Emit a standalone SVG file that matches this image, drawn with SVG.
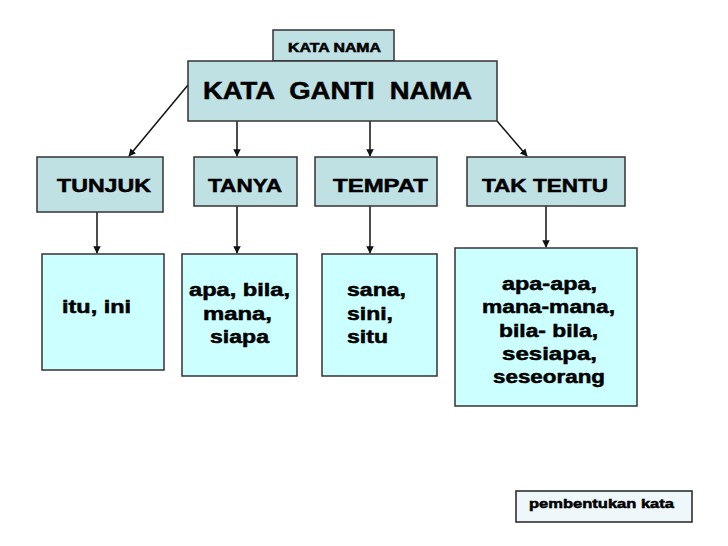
<svg xmlns="http://www.w3.org/2000/svg" width="728" height="546" viewBox="0 0 728 546">
<defs>
<style>
.top{fill:#bfe1e4;stroke:#333;stroke-width:1.5}
.bot{fill:#ccffff;stroke:#333;stroke-width:1.5}
.foot{fill:#eef7fa;stroke:#222;stroke-width:1.5}
.t{font-family:"Liberation Sans",Arial,sans-serif;font-weight:bold;fill:#000;stroke:#000;stroke-width:0.5}
.c{stroke:#111;stroke-width:1.5;fill:none;marker-end:url(#ah)}
</style>
<marker id="ah" viewBox="0 0 10 10" refX="9" refY="5" markerWidth="5" markerHeight="5" orient="auto" markerUnits="strokeWidth">
<path d="M0,0 L10,5 L0,10 z" fill="#111"/>
</marker>
</defs>
<rect width="728" height="546" fill="#fff"/>
<g id="connectors">
<line class="c" x1="188" y1="85" x2="129" y2="156"/>
<line class="c" x1="237" y1="121" x2="237" y2="156"/>
<line class="c" x1="370" y1="121" x2="370" y2="156"/>
<line class="c" x1="497" y1="121" x2="527" y2="156"/>
<line class="c" x1="97" y1="212" x2="97" y2="253"/>
<line class="c" x1="237" y1="206" x2="237" y2="253"/>
<line class="c" x1="370" y1="206" x2="370" y2="253"/>
<line class="c" x1="546" y1="206" x2="546" y2="247"/>
</g>
<g id="kata-nama">
<rect class="top" x="273" y="30" width="121" height="31"/>
<text class="t" x="288" y="52" font-size="12" textLength="93" lengthAdjust="spacingAndGlyphs">KATA NAMA</text>
</g>
<g id="kata-ganti-nama">
<rect class="top" x="188" y="61" width="309" height="60"/>
<text class="t" x="203" y="99" font-size="24" textLength="269" lengthAdjust="spacingAndGlyphs" xml:space="preserve">KATA  GANTI  NAMA</text>
</g>
<g id="tunjuk">
<rect class="top" x="37" y="157" width="126" height="55"/>
<text class="t" x="57" y="192" font-size="18" textLength="94" lengthAdjust="spacingAndGlyphs">TUNJUK</text>
</g>
<g id="tanya">
<rect class="top" x="194" y="157" width="103" height="49"/>
<text class="t" x="208" y="192" font-size="18" textLength="74" lengthAdjust="spacingAndGlyphs">TANYA</text>
</g>
<g id="tempat">
<rect class="top" x="315" y="157" width="122" height="49"/>
<text class="t" x="333" y="192" font-size="18" textLength="95" lengthAdjust="spacingAndGlyphs">TEMPAT</text>
</g>
<g id="tak-tentu">
<rect class="top" x="467" y="157" width="158" height="49"/>
<text class="t" x="482" y="192" font-size="18" textLength="126" lengthAdjust="spacingAndGlyphs">TAK TENTU</text>
</g>
<g id="itu-ini">
<rect class="bot" x="42" y="254" width="122" height="116"/>
<text class="t" x="62" y="313" font-size="18" textLength="69" lengthAdjust="spacingAndGlyphs">itu, ini</text>
</g>
<g id="apa-bila">
<rect class="bot" x="182" y="254" width="115" height="122"/>
<text class="t" x="189" y="296" font-size="18" textLength="101" lengthAdjust="spacingAndGlyphs">apa, bila,</text>
<text class="t" x="203" y="320" font-size="18" textLength="69" lengthAdjust="spacingAndGlyphs">mana,</text>
<text class="t" x="210" y="343" font-size="18" textLength="59" lengthAdjust="spacingAndGlyphs">siapa</text>
</g>
<g id="sana-sini">
<rect class="bot" x="322" y="254" width="115" height="122"/>
<text class="t" x="347" y="296" font-size="18" textLength="59" lengthAdjust="spacingAndGlyphs">sana,</text>
<text class="t" x="347" y="320" font-size="18" textLength="46" lengthAdjust="spacingAndGlyphs">sini,</text>
<text class="t" x="347" y="343" font-size="18" textLength="41" lengthAdjust="spacingAndGlyphs">situ</text>
</g>
<g id="apa-apa">
<rect class="bot" x="455" y="248" width="182" height="158"/>
<text class="t" x="502" y="290" font-size="18" textLength="95" lengthAdjust="spacingAndGlyphs">apa-apa,</text>
<text class="t" x="482" y="313" font-size="18" textLength="133" lengthAdjust="spacingAndGlyphs">mana-mana,</text>
<text class="t" x="499" y="337" font-size="18" textLength="99" lengthAdjust="spacingAndGlyphs">bila- bila,</text>
<text class="t" x="502" y="360" font-size="18" textLength="95" lengthAdjust="spacingAndGlyphs">sesiapa,</text>
<text class="t" x="493" y="383" font-size="18" textLength="112" lengthAdjust="spacingAndGlyphs">seseorang</text>
</g>
<g id="pembentukan-kata">
<rect class="foot" x="516" y="491" width="176" height="31"/>
<text class="t" x="529" y="508" font-size="13" textLength="145" lengthAdjust="spacingAndGlyphs">pembentukan kata</text>
</g>
</svg>
